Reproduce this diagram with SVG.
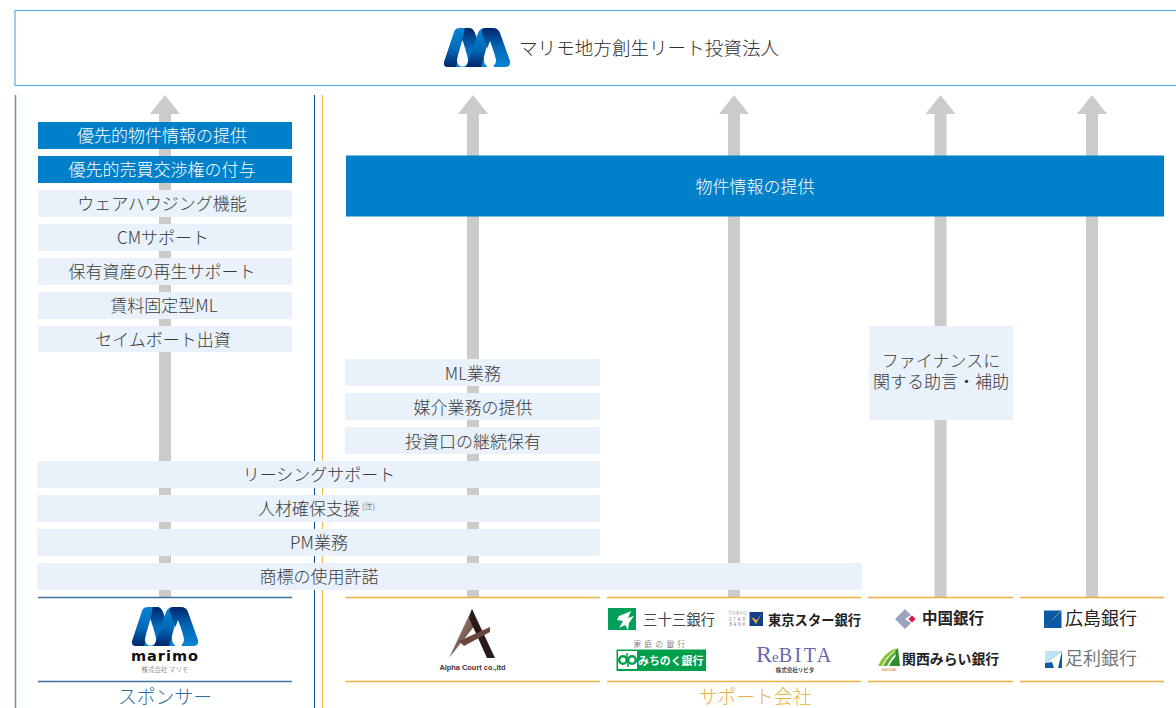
<svg xmlns="http://www.w3.org/2000/svg" width="1176" height="708" viewBox="0 0 1176 708">
<style>
text{font-family:"Noto Sans CJK JP","Noto Sans",sans-serif;font-weight:300}
.l{font-size:17px;fill:#3a3a3a;text-anchor:middle}
.w{font-size:17px;fill:#fff;text-anchor:middle}
.lb{fill:#e9f1fb}
.bb{fill:#0080c9}
.ar{fill:#cbcbcb}
.rs{stroke:#3f719f;stroke-width:1.3;fill:none}
.ry{stroke:#e9b13f;stroke-width:1.4;fill:none}
.bk{font-weight:700;fill:#222}
</style>
<defs>
<linearGradient id="g1" x1="0" y1="0" x2="0" y2="1"><stop offset="0" stop-color="#0a84d6"/><stop offset="0.55" stop-color="#0068b8"/><stop offset="1" stop-color="#00256a"/></linearGradient>
<linearGradient id="g2" x1="0" y1="0" x2="0" y2="1"><stop offset="0" stop-color="#00256a"/><stop offset="0.5" stop-color="#0068b8"/><stop offset="1" stop-color="#0a84d6"/></linearGradient>
<linearGradient id="ga" x1="0" y1="0" x2="1" y2="1"><stop offset="0" stop-color="#c9a690"/><stop offset="1" stop-color="#3c2a26"/></linearGradient>
<g id="mlogo">
<path d="M0 34L10 4Q11 0 16 0H27L16 39H4Q-1 39 0 34Z" fill="url(#g1)"/>
<path d="M21 0H25Q29 0 31 5L43 39H12L20 5Q20.500 0 21 0Z" fill="url(#g2)"/>
<path d="M22 39L34 5Q36 0 41 0H48L37 39Z" fill="url(#g1)"/>
<path d="M42 0H49Q54 0 56 5L66 33Q67 39 61 39H50L38 5Q37 0 42 0Z" fill="url(#g2)"/>
<path d="M18.500 12Q24 29 24 33A5.500 5.800 0 0 1 13 33Q13 29 18.500 12Z" fill="#fff"/>
<path d="M46 13Q52 29 52 33A6 5.800 0 0 1 40 33Q40 29 46 13Z" fill="#fff"/>
</g>
</defs>
<g id="frame">
<rect x="15" y="10.500" width="1170" height="75" fill="#fff" stroke="#5cb0e4" stroke-width="1.200"/>
<path d="M15.500 95V708" stroke="#5f93c2" stroke-width="1.500"/>
<path d="M314.500 95V708" stroke="#0b4a86" stroke-width="1"/>
<path d="M322.500 95V708" stroke="#f0bf50" stroke-width="1.200"/>
</g>
<g id="connectors">
<path class="ar" d="M165 95L180 114H171V598H159V114H150Z"/>
<path class="ar" d="M473 95L488 114H479V598H467V114H458Z"/>
<path class="ar" d="M734 95L749 114H740V598H728V114H719Z"/>
<path class="ar" d="M940.500 95L955.500 114H946.500V598H934.500V114H925.500Z"/>
<path class="ar" d="M1092 95L1107 114H1098V598H1086V114H1077Z"/>
</g>
<g id="node-reit">
<use href="#mlogo" x="444" y="28"/>
<text x="519" y="55" font-size="18.500" fill="#2e2e2e" textLength="260">マリモ地方創生リート投資法人</text>
</g>
<g id="node-s1"><rect class="bb" x="38" y="122" width="254" height="27"/><text class="w" x="162" y="142">優先的物件情報の提供</text></g>
<g id="node-s2"><rect class="bb" x="38" y="156" width="254" height="27"/><text class="w" x="162" y="176">優先的売買交渉権の付与</text></g>
<g id="node-s3"><rect class="lb" x="38" y="190" width="254" height="27"/><text class="l" x="162" y="210">ウェアハウジング機能</text></g>
<g id="node-s4"><rect class="lb" x="38" y="224" width="254" height="27"/><text class="l" x="163" y="244">CMサポート</text></g>
<g id="node-s5"><rect class="lb" x="38" y="258" width="254" height="27"/><text class="l" x="162" y="278">保有資産の再生サポート</text></g>
<g id="node-s6"><rect class="lb" x="38" y="292" width="254" height="27"/><text class="l" x="164" y="312">賃料固定型ML</text></g>
<g id="node-s7"><rect class="lb" x="38" y="326" width="254" height="26"/><text class="l" x="163" y="346">セイムボート出資</text></g>
<g id="node-info"><rect class="bb" x="346" y="155.500" width="818" height="61"/><text class="w" x="755" y="193">物件情報の提供</text></g>
<g id="node-ml"><rect class="lb" x="345" y="359" width="255" height="27"/><text class="l" x="473" y="380">ML業務</text></g>
<g id="node-broker"><rect class="lb" x="345" y="393" width="255" height="27"/><text class="l" x="473" y="414">媒介業務の提供</text></g>
<g id="node-hold"><rect class="lb" x="345" y="427" width="255" height="27"/><text class="l" x="473" y="448">投資口の継続保有</text></g>
<g id="node-fin"><rect class="lb" x="869" y="326" width="144" height="94"/><text class="l" x="941" y="367">ファイナンスに</text><text class="l" x="941" y="388">関する助言・補助</text></g>
<g id="node-lease"><rect class="lb" x="37" y="461" width="563" height="27"/><text class="l" x="319" y="481">リーシングサポート</text></g>
<g id="node-hr"><rect class="lb" x="37" y="495" width="563" height="27"/><text class="l" x="309" y="515">人材確保支援</text><text x="362" y="509" font-size="8" fill="#3a3a3a">(注)</text></g>
<g id="node-pm"><rect class="lb" x="37" y="529" width="563" height="27"/><text class="l" x="319" y="549">PM業務</text></g>
<g id="node-tm"><rect class="lb" x="37" y="563" width="825" height="27"/><text class="l" x="319" y="583">商標の使用許諾</text></g>
<g id="node-sponsor">
<path class="rs" d="M38 597.500H292M38 681.500H292"/>
<use href="#mlogo" x="132" y="607"/>
<text x="165" y="661" font-size="14.500" text-anchor="middle" style="font-family:'DejaVu Sans',sans-serif;font-weight:700;letter-spacing:1px" fill="#111">marimo</text>
<text x="165" y="672" font-size="6.500" text-anchor="middle" fill="#444">株式会社 マリモ</text>
<text x="165" y="704" font-size="18.800" text-anchor="middle" fill="#2f6ca3">スポンサー</text>
</g>
<g id="node-alpha">
<path class="ry" d="M345.500 597.500H600M345.500 681.500H600"/>
<path d="M449 658L472 609L476 624Z" fill="url(#ga)"/>
<path d="M472 609L495 658H487L469 618Z" fill="#2a1b1a"/>
<path d="M459 641L490 627L490 632L464 646Z" fill="#6b463b"/>
<text x="472.500" y="670" font-size="7.400" text-anchor="middle" style="font-family:'Liberation Sans',sans-serif;font-weight:700" fill="#4a3030">Alpha Court co.,ltd</text>
</g>
<g id="node-banks">
<path class="ry" d="M607 597.500H861M607 681.500H861"/>
<rect x="608" y="608" width="28" height="22" fill="#00a05a"/>
<path d="M619 616L631 611L628 618L634 616L629 623L628 630L625 625L619 628L623 621L617 620Z" fill="#fff"/>
<text x="643" y="625" font-size="14.400" fill="#444" style="font-weight:400">三十三銀行</text>
<g font-size="4.500" fill="#444" style="font-family:'Liberation Serif',serif" text-anchor="middle"><text x="738" y="615" letter-spacing="1">TOKYO</text><text x="738" y="620.500" letter-spacing="2">STAR</text><text x="738" y="626" letter-spacing="1.500">BANK</text></g>
<rect x="749.500" y="612" width="13.500" height="14" fill="#113f8c"/>
<path d="M751 617L756 624L762 613L757 620Z" fill="#f0a830"/>
<text x="768" y="624.500" font-size="13.300" class="bk">東京スター銀行</text>
<text x="661" y="647" font-size="7.500" fill="#333" text-anchor="middle" letter-spacing="3.500">家庭の銀行</text>
<rect x="616.500" y="649.500" width="89.500" height="21.500" fill="#00a04a"/>
<rect x="618" y="651" width="19" height="18" fill="#fff"/>
<circle cx="623" cy="660" r="3.800" fill="none" stroke="#00a04a" stroke-width="2.500"/><circle cx="632" cy="660" r="3.800" fill="none" stroke="#00a04a" stroke-width="2.500"/>
<path d="M627 653V660M628 660V667" stroke="#00a04a" stroke-width="1.500"/>
<text x="638" y="665" font-size="10.900" fill="#fff" style="font-weight:700">みちのく銀行</text>
<text x="756" y="662" fill="#6a68ad" style="font-family:'Liberation Serif',serif;font-weight:400"><tspan font-size="24">R</tspan><tspan font-size="15">e</tspan><tspan font-size="20" letter-spacing="2.500">BITA</tspan></text>
<text x="795" y="672" font-size="5.500" fill="#444" text-anchor="middle" style="font-weight:700">株式会社リビタ</text>
<text x="755" y="704" font-size="18.800" text-anchor="middle" fill="#e9b13f">サポート会社</text>
</g>
<g id="node-chugoku">
<path class="ry" d="M868 597.500H1013M868 681.500H1013"/>
<path d="M905 609L911 615L905 619L911 623L905 629L895 619Z" fill="#9ba3bd"/>
<path d="M912 615.500L915.500 619L912 622.500L908.500 619Z" fill="#e0103a"/>
<text x="922" y="624" font-size="15.500" class="bk">中国銀行</text>
<path d="M878 666Q884 652 897 648L895 651Q887 655 882 666Z" fill="#8cc63f"/>
<path d="M883 666Q888 656 896 651L895 655Q891 658 887 666Z" fill="#58b02f"/>
<path d="M889 666Q892 660 896 656L899 666Z" fill="#2f8f2f"/>
<path d="M898 648L900 666H897L895 651Z" fill="#2f8f2f"/>
<text x="889" y="671" font-size="4" fill="#e8782a" text-anchor="middle" style="font-family:'Liberation Sans',sans-serif">KANSAI</text>
<text x="902" y="664" font-size="13.900" class="bk">関西みらい銀行</text>
</g>
<g id="node-hiroshima">
<path class="ry" d="M1020 597.500H1164M1020 681.500H1164"/>
<rect x="1044" y="610.500" width="17.500" height="17.500" fill="#0b5aa6"/>
<path d="M1044.500 627.500L1053 619" stroke="#e03040" stroke-width="0.800" stroke-dasharray="2 1"/>
<path d="M1053 619L1061 611" stroke="#e8d040" stroke-width="0.800" stroke-dasharray="2 1"/>
<text x="1065" y="625" font-size="18" fill="#222" style="font-weight:400">広島銀行</text>
<rect x="1045" y="651" width="17" height="17" fill="#0b5aa6"/>
<path d="M1062 651L1046 663L1052 662L1054 668L1058 668Z" fill="#fff"/>
<path d="M1045 651H1062L1046 663H1045Z" fill="#bfe3f7"/>
<text x="1065" y="665" font-size="18" fill="#777" style="font-weight:400">足利銀行</text>
</g>
</svg>
